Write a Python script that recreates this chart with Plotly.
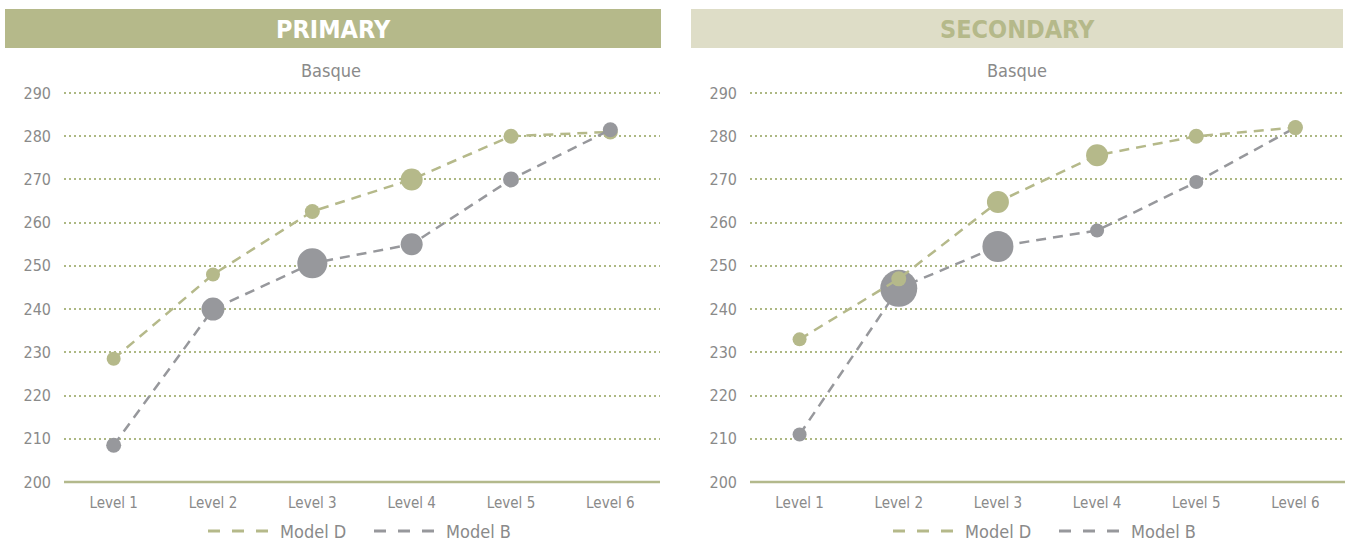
import plotly.graph_objects as go

# Category labels and y-axis ticks
levels = ["Level 1", "Level 2", "Level 3", "Level 4", "Level 5", "Level 6"]
y_ticks = [200, 210, 220, 230, 240, 250, 260, 270, 280, 290]
series_names = ["Model D", "Model B"]

# Primary panel: mean scores and bubble diameters
primary_d = [228.5, 248.0, 262.6, 270.0, 280.0, 281.0]
primary_d_size = [14, 14, 15, 22, 15, 15]
primary_b = [208.5, 240.0, 250.6, 255.0, 270.0, 281.5]
primary_b_size = [15, 23, 30, 22, 16, 15]

# Secondary panel: mean scores and bubble diameters
secondary_d = [233.0, 247.0, 264.8, 275.6, 280.0, 282.0]
secondary_d_size = [14, 15, 22, 22, 15, 15]
secondary_b = [211.0, 244.8, 254.5, 258.2, 269.4, 282.0]
secondary_b_size = [14, 37, 31, 14, 14, 14]

GREEN = "#b5b98a"
GREEN_LIGHT = "#deddc7"
GRAY = "#97989c"
GRID = "#adb883"
AXIS = "#b3b98c"
TEXT = "#8a8a8a"
FONT = "DejaVu Sans Condensed, DejaVu Sans, sans-serif"
DASH = "10px,7px"

W, H = 1354, 546


def px_x(p):
    return p / W


def px_y(p):
    return 1 - p / H


fig = go.Figure()


def add_series(name, y, sizes, color, xaxis, yaxis):
    fig.add_trace(go.Scatter(
        x=levels, y=y, mode="lines+markers", name=name,
        line=dict(color=color, width=2.5, dash=DASH),
        marker=dict(size=sizes, color=color, opacity=1, line=dict(width=0)),
        xaxis=xaxis, yaxis=yaxis, showlegend=False, cliponaxis=False,
    ))


# Primary: Model B drawn on top
add_series("Model D", primary_d, primary_d_size, GREEN, "x", "y")
add_series("Model B", primary_b, primary_b_size, GRAY, "x", "y")
# Secondary: Model D drawn on top
add_series("Model B", secondary_b, secondary_b_size, GRAY, "x2", "y2")
add_series("Model D", secondary_d, secondary_d_size, GREEN, "x2", "y2")

# 200 sits at 482px, 290 at 93px; range padded so the 290 gridline shows
y_lo, y_hi = 199.5, 290.5
ppu = (482 - 93) / 90.0
y_dom = [px_y(482 + (200 - y_lo) * ppu), px_y(93 - (y_hi - 290) * ppu)]

xaxis_common = dict(
    type="category", range=[-0.5, 5.5], showgrid=False, zeroline=False,
    showline=False, ticks="", tickfont=dict(family=FONT, size=15, color=TEXT),
    ticklabelstandoff=8, fixedrange=True, automargin=False,
)
yaxis_common = dict(
    range=[y_lo, y_hi], domain=y_dom, tickvals=y_ticks, showgrid=True,
    gridcolor=GRID, gridwidth=2, griddash="2px,3px", zeroline=False,
    showline=False, ticks="", tickfont=dict(family=FONT, size=16, color=TEXT),
    ticklabelstandoff=12, fixedrange=True, automargin=False,
)

fig.update_layout(
    width=W, height=H,
    margin=dict(l=0, r=0, t=0, b=0, autoexpand=False),
    paper_bgcolor="white", plot_bgcolor="white",
    xaxis=dict(domain=[px_x(64), px_x(660)], anchor="y", **xaxis_common),
    yaxis=dict(anchor="x", **yaxis_common),
    xaxis2=dict(domain=[px_x(750), px_x(1345)], anchor="y2", **xaxis_common),
    yaxis2=dict(anchor="x2", **yaxis_common),
    showlegend=False,
)

shapes = [
    # header bars
    dict(type="rect", xref="paper", yref="paper", x0=px_x(5), x1=px_x(661),
         y0=px_y(48), y1=px_y(9), fillcolor=GREEN, line=dict(width=0), layer="below"),
    dict(type="rect", xref="paper", yref="paper", x0=px_x(691), x1=px_x(1343),
         y0=px_y(48), y1=px_y(9), fillcolor=GREEN_LIGHT, line=dict(width=0), layer="below"),
    # solid baselines at 200
    dict(type="line", xref="x domain", yref="y", x0=0, x1=1, y0=200, y1=200,
         line=dict(color=AXIS, width=2.5), layer="above"),
    dict(type="line", xref="x2 domain", yref="y2", x0=0, x1=1, y0=200, y1=200,
         line=dict(color=AXIS, width=2.5), layer="above"),
]

annotations = [
    dict(text="<b>PRIMARY</b>", xref="paper", yref="paper", x=px_x(333), y=px_y(29),
         xanchor="center", yanchor="middle", showarrow=False,
         font=dict(family=FONT, size=25, color="white")),
    dict(text="<b>SECONDARY</b>", xref="paper", yref="paper", x=px_x(1017), y=px_y(29),
         xanchor="center", yanchor="middle", showarrow=False,
         font=dict(family=FONT, size=25, color=GREEN)),
    dict(text="Basque", xref="paper", yref="paper", x=px_x(331), y=px_y(71),
         xanchor="center", yanchor="middle", showarrow=False,
         font=dict(family=FONT, size=18, color=TEXT)),
    dict(text="Basque", xref="paper", yref="paper", x=px_x(1017), y=px_y(71),
         xanchor="center", yanchor="middle", showarrow=False,
         font=dict(family=FONT, size=18, color=TEXT)),
]

# legend rows under each panel: dashed swatch followed by the series name
legend_y = 531
for offset in (0, 685):
    for i, (name, color) in enumerate(zip(series_names, [GREEN, GRAY])):
        x0 = 208 + offset + i * 166
        shapes.append(dict(type="line", xref="paper", yref="paper",
                           x0=px_x(x0), x1=px_x(x0 + 60),
                           y0=px_y(legend_y), y1=px_y(legend_y),
                           line=dict(color=color, width=3, dash="12px,12px")))
        annotations.append(dict(text=name, xref="paper", yref="paper",
                                x=px_x(x0 + 70), y=px_y(legend_y),
                                xanchor="left", yanchor="middle", showarrow=False,
                                font=dict(family=FONT, size=18, color=TEXT)))

fig.update_layout(shapes=shapes, annotations=annotations)

fig.write_html("out.html", config={"displayModeBar": False})
